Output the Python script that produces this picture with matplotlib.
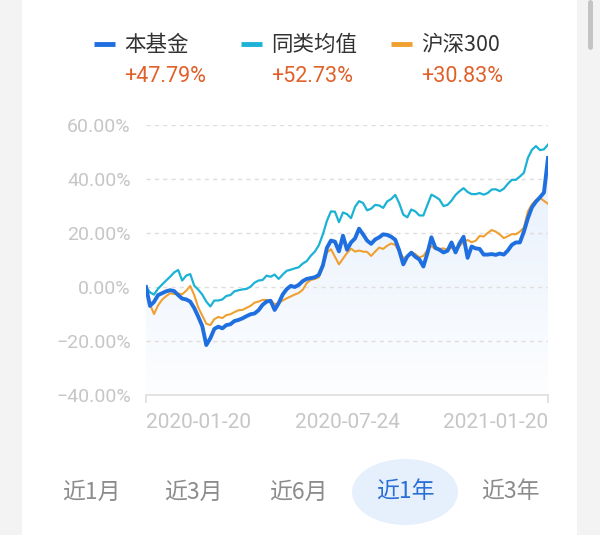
import numpy as np
import matplotlib
matplotlib.use("Agg")
import matplotlib.pyplot as plt
from matplotlib.patches import Ellipse, FancyBboxPatch
from matplotlib.lines import Line2D
from matplotlib.colors import LinearSegmentedColormap
from matplotlib.transforms import blended_transform_factory

# cumulative return (%), 2020-01-20 .. 2021-01-20
fund = [0.0, -7.0, -5.5, -3.0, -2.3, -1.6, -1.2, -1.5, -3.0, -4.3,
        -4.6, -5.4, -7.8, -11.0, -14.5, -21.5, -19.0, -15.5, -14.7, -15.3,
        -14.1, -13.8, -12.6, -12.2, -11.6, -10.8, -10.1, -9.8, -8.6, -6.6,
        -5.4, -5.1, -8.5, -6.0, -2.8, -0.8, 0.4, 0.0, 0.8, 2.2,
        3.0, 3.3, 3.6, 4.5, 8.0, 14.5, 17.2, 16.8, 13.2, 19.0,
        13.8, 16.5, 18.0, 21.6, 19.5, 17.2, 16.0, 17.6, 18.4, 19.5,
        19.3, 18.6, 17.5, 13.5, 8.4, 11.3, 12.7, 11.2, 10.2, 7.6,
        12.5, 18.4, 14.5, 13.8, 12.8, 13.4, 16.5, 12.8, 16.2, 18.6,
        10.8, 15.0, 14.3, 14.1, 12.0, 12.0, 12.2, 11.9, 12.4, 12.0,
        13.5, 15.6, 16.5, 16.5, 20.5, 25.5, 29.5, 31.6, 33.2, 35.0,
        47.79]
peer_avg = [0.0, -2.0, -2.8, -0.6, 0.9, 2.4, 3.8, 5.4, 6.3, 2.4,
            4.2, 4.8, 0.5, -1.0, -2.8, -5.4, -7.2, -5.0, -5.0, -4.6,
            -3.3, -3.0, -1.6, -1.2, -0.9, -0.7, 0.1, 1.6, 2.4, 2.6,
            4.2, 3.8, 4.6, 3.0, 4.6, 6.0, 6.4, 6.9, 7.3, 8.7,
            9.6, 11.6, 13.1, 15.5, 19.5, 24.5, 28.0, 27.9, 24.0, 27.6,
            27.0, 25.5, 29.7, 31.8, 31.1, 28.4, 29.0, 30.4, 30.2, 29.3,
            31.7, 32.6, 34.1, 31.0, 26.8, 25.8, 28.7, 28.0, 26.5, 26.5,
            30.4, 34.2, 33.4, 32.4, 30.0, 30.4, 32.0, 34.1, 35.5, 36.6,
            35.2, 34.4, 34.4, 34.8, 34.2, 34.8, 36.1, 36.2, 35.5, 36.4,
            38.2, 39.7, 39.7, 40.9, 42.3, 47.8, 50.8, 52.2, 50.7, 51.0,
            52.73]
hs300 = [0.0, -6.5, -10.0, -6.8, -4.7, -3.4, -2.3, -2.6, -2.4, -2.7,
         -1.4, 0.4, -3.0, -7.6, -10.6, -13.6, -14.1, -11.9, -11.1, -11.5,
         -10.4, -10.1, -9.3, -8.6, -8.5, -7.7, -7.0, -5.8, -5.4, -4.8,
         -4.8, -5.1, -6.4, -6.0, -5.0, -4.2, -3.5, -2.8, -2.2, -1.0,
         1.5, 2.6, 3.0, 3.6, 7.5, 12.8, 14.0, 11.2, 8.4, 10.5,
         12.6, 14.2, 13.1, 13.5, 13.1, 13.0, 11.5, 13.1, 14.6, 14.1,
         15.3, 16.1, 15.6, 13.2, 10.8, 11.2, 13.0, 12.2, 11.0, 11.5,
         13.7, 15.2, 14.0, 14.1, 14.3, 13.8, 14.5, 13.7, 15.2, 16.7,
         17.4, 16.6, 17.1, 18.9, 18.7, 20.0, 21.1, 20.5, 19.5, 18.1,
         18.8, 19.6, 19.5, 20.5, 22.0, 28.0, 30.6, 32.2, 33.0, 31.9,
         30.83]

series_names = ["本基金", "同类均值", "沪深300"]
series_returns = ["+47.79%", "+52.73%", "+30.83%"]
date_labels = ["2020-01-20", "2020-07-24", "2021-01-20"]
y_ticks = [-40, -20, 0, 20, 40, 60]
y_labels = ["−40.00%", "−20.00%", "0.00%", "20.00%", "40.00%", "60.00%"]
periods = ["近1月", "近3月", "近6月", "近1年", "近3年"]
selected = "近1年"

W, H = 600, 535
def fx(px):
    return px / W
def fy(py):
    return 1 - py / H

C_FUND, C_PEER, C_HS = "#1f6fe0", "#1bb2d6", "#f0a030"
CJK = ["Noto Sans CJK SC", "DejaVu Sans"]

fig = plt.figure(figsize=(6, 5.35), dpi=100)
fig.patch.set_facecolor("#f3f3f3")
fig.add_artist(FancyBboxPatch((fx(22), -0.05), fx(577) - fx(22), 1.1,
                              boxstyle="round,pad=0,rounding_size=0.015",
                              transform=fig.transFigure, fc="white", ec="none", zorder=0))
fig.add_artist(FancyBboxPatch((fx(588), fy(50)), fx(5), fy(0) - fy(50),
                              boxstyle="round,pad=0,rounding_size=0.005",
                              transform=fig.transFigure, fc="#c4c4c4", ec="none", zorder=1))

ax = fig.add_axes([fx(146), fy(395), fx(548) - fx(146), fy(125) - fy(395)])
ax.set_facecolor("none")
x = np.arange(len(fund))
ax.set_xlim(0, len(fund) - 1)
ax.set_ylim(-40, 60)

# gradient area under the fund line
poly = ax.fill_between(x, fund, -40, color="none", lw=0)
cmap = LinearSegmentedColormap.from_list("fade", ["#fdfeff", "#e4eefc"])
grad = np.linspace(1, 0, 256).reshape(-1, 1)
im = ax.imshow(grad, extent=[0, len(fund) - 1, -40, 60], origin="upper",
               aspect="auto", cmap=cmap, vmin=0, vmax=1, zorder=0.5)
im.set_clip_path(poly.get_paths()[0], transform=ax.transData)

for v in y_ticks[1:]:
    ax.axhline(v, color="#dedede", lw=1, ls=(0, (3, 3)), zorder=1)

ax.plot(x, hs300, color=C_HS, lw=1.5, zorder=3)
ax.plot(x, peer_avg, color=C_PEER, lw=1.6, zorder=3)
ax.plot(x, fund, color=C_FUND, lw=2.8, zorder=4, solid_joinstyle="round")

for s in ["top", "right", "left"]:
    ax.spines[s].set_visible(False)
ax.spines["bottom"].set_color("#dedede")
ax.spines["bottom"].set_linewidth(1.2)
ax.set_xticks([0, len(fund) - 1])
ax.set_xticklabels([])
ax.tick_params(axis="x", length=6, color="#dedede", width=1.2)
ax.set_yticks(y_ticks)
ax.set_yticklabels(y_labels, fontfamily="Roboto", fontsize=14, color="#c6c6c6")
ax.tick_params(axis="y", length=0, pad=11)

tr = blended_transform_factory(ax.transData, fig.transFigure)
xpos = [0, (len(fund) - 1) / 2, len(fund) - 1]
for xp, lab, ha in zip(xpos, date_labels, ["left", "center", "right"]):
    ax.text(xp, fy(423), lab, transform=tr, ha=ha, va="center",
            fontfamily="Roboto", fontsize=15, color="#c6c6c6")

# legend
for (x0, name, ret, col) in zip([94, 241, 391], series_names, series_returns,
                                 [C_FUND, C_PEER, C_HS]):
    fig.add_artist(Line2D([fx(x0), fx(x0 + 21)], [fy(44), fy(44)], color=col,
                          lw=3.5, solid_capstyle="butt"))
    fig.text(fx(x0 + 30), fy(45), name, ha="left", va="center",
             family=CJK, fontsize=15.5, color="#333333")
    fig.text(fx(x0 + 30), fy(77), ret, ha="left", va="center",
             family="Roboto", fontsize=15.5, color="#e0602a")

# period buttons
fig.add_artist(Ellipse((fx(405), fy(492)), fx(106), 66 / H,
                       transform=fig.transFigure, fc="#e6f0fd", ec="none"))
for cx, p in zip([91, 193, 298, 405, 510], periods):
    fig.text(fx(cx), fy(492), p, ha="center", va="center", family=CJK,
             fontsize=16.5, color="#2a6fd6" if p == selected else "#8c8c8c")

fig.savefig("out.png", dpi=100, facecolor=fig.get_facecolor())
